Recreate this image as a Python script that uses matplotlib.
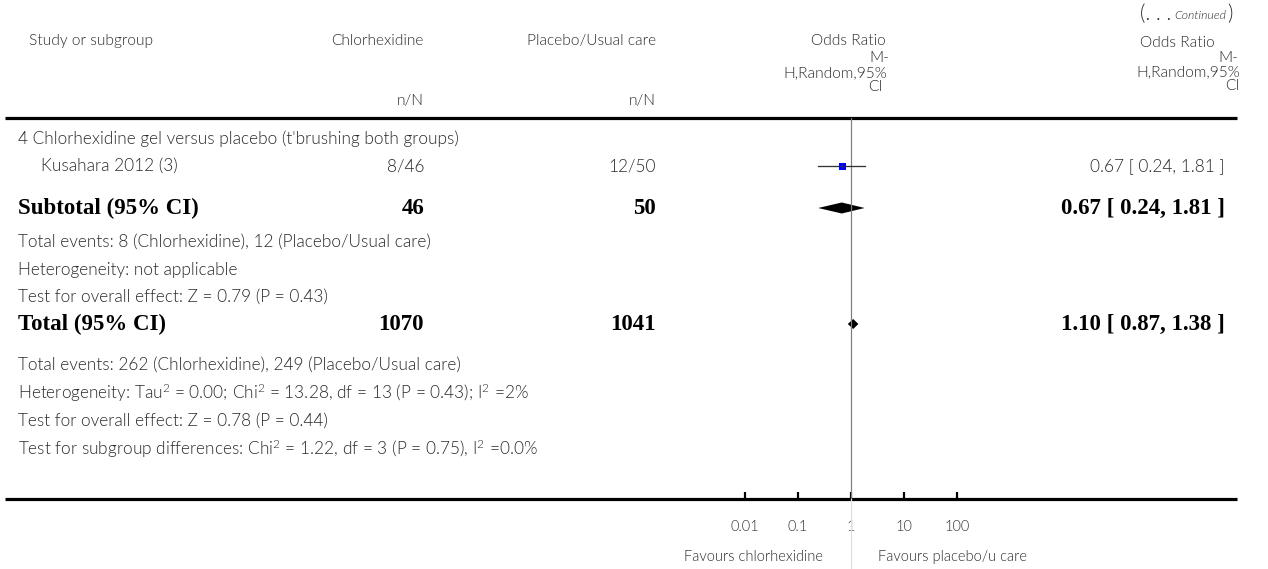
import matplotlib
matplotlib.use("Agg")
import matplotlib.pyplot as plt
import matplotlib.transforms as mtrans

# ---------------- data ----------------
subgroup_title = "4 Chlorhexidine gel versus placebo (t'brushing both groups)"
studies = ["Kusahara 2012 (3)"]
chx_events = [8]
chx_total = [46]
plc_events = [12]
plc_total = [50]
study_or = [0.67]
study_lo = [0.24]
study_hi = [1.81]

sub_or, sub_lo, sub_hi = 0.67, 0.24, 1.81
sub_chx_n, sub_plc_n = 46, 50
sub_notes = ["Total events: 8 (Chlorhexidine), 12 (Placebo/Usual care)",
             "Heterogeneity: not applicable",
             "Test for overall effect: Z = 0.79 (P = 0.43)"]

tot_or, tot_lo, tot_hi = 1.10, 0.87, 1.38
tot_chx_n, tot_plc_n = 1070, 1041
tot_notes = ["Total events: 262 (Chlorhexidine), 249 (Placebo/Usual care)",
             r"Heterogeneity: Tau$^2$ = 0.00; Chi$^2$ = 13.28, df = 13 (P = 0.43); I$^2$ =2%",
             "Test for overall effect: Z = 0.78 (P = 0.44)",
             r"Test for subgroup differences: Chi$^2$ = 1.22, df = 3 (P = 0.75), I$^2$ =0.0%"]

tick_values = [0.01, 0.1, 1, 10, 100]
tick_labels = ["0.01", "0.1", "1", "10", "100"]
favours_left = "Favours chlorhexidine"
favours_right = "Favours placebo/u care"

# ---------------- style ----------------
W, H = 1268, 569
LW = 300  # Lato Light
plt.rcParams['mathtext.fontset'] = 'custom'
plt.rcParams['mathtext.rm'] = 'Lato:weight=300'
plt.rcParams['mathtext.it'] = 'Lato:italic:weight=300'
TXT = '#2a2a2a'
REG = dict(family='Lato', weight=LW, color=TXT)
BOLD = dict(family='Liberation Serif', weight='bold', color='black')
HS = 11.2   # header font size
RS = 12.4   # body font size
BS = 16.5   # bold font size

fig = plt.figure(figsize=(W / 100, H / 100), dpi=100)
bg = fig.add_axes([0, 0, 1, 1])
bg.set_xlim(0, W)
bg.set_ylim(H, 0)
bg.axis('off')

PX = 72 / 100  # points per pixel

# column anchors (pixels)
X_LEFT = 18
X_INDENT = 41
X_CHX = 424
X_PLC = 656
X_RES = 1225

# row positions (pixels)
Y_HDR_LINE = 118
Y_AX_LINE = 499
y_title = 139
y_study = [166]
y_sub = 208
y_sub_notes = [242, 270, 297]
y_tot = 324
y_tot_notes = [365, 393, 421, 449]

# ---- header ----
bg.text(91, 41, "Study or subgroup", ha='center', va='center', fontsize=HS, **REG)
bg.text(X_CHX, 41, "Chlorhexidine", ha='right', va='center', fontsize=HS, **REG)
bg.text(X_PLC, 41, "Placebo/Usual care", ha='right', va='center', fontsize=HS, **REG)
bg.text(X_CHX, 101, "n/N", ha='right', va='center', fontsize=HS, **REG)
bg.text(X_PLC, 101, "n/N", ha='right', va='center', fontsize=HS, **REG)

# middle OR header
bg.text(848, 41, "Odds Ratio", ha='center', va='center', fontsize=HS, **REG)
bg.text(889, 58, "M-", ha='right', va='center', fontsize=HS, **REG)
bg.text(887, 73, "H,Random,95%", ha='right', va='center', fontsize=HS, **REG)
bg.text(875, 87, "CI", ha='center', va='center', fontsize=HS, **REG)
# right OR header
bg.text(1177, 43, "Odds Ratio", ha='center', va='center', fontsize=HS, **REG)
bg.text(1238, 58, "M-", ha='right', va='center', fontsize=HS, **REG)
bg.text(1240, 72, "H,Random,95%", ha='right', va='center', fontsize=HS, **REG)
bg.text(1239, 86, "CI", ha='right', va='center', fontsize=HS, **REG)

# (... Continued)
renderer = fig.canvas.get_renderer()
blend = mtrans.blended_transform_factory(mtrans.IdentityTransform(), bg.transData)
t1 = bg.text(1233, 14, ")", ha='right', va='center', fontsize=15, **REG)
bb = t1.get_window_extent(renderer)
t2 = bg.text(bb.x0 - 1, 15, "Continued", ha='right', va='center', fontsize=8.8,
             family='Lato', weight=LW, style='italic', color=TXT, transform=blend)
bb2 = t2.get_window_extent(renderer)
bg.text(bb2.x0 - 3, 14, "(. . .", ha='right', va='center', fontsize=15,
        transform=blend, **REG)

# horizontal rules
bg.plot([5, 1237], [Y_HDR_LINE, Y_HDR_LINE], color='black', lw=3.2 * PX,
        solid_capstyle='butt')
bg.plot([5, 1237], [Y_AX_LINE, Y_AX_LINE], color='black', lw=3.2 * PX,
        solid_capstyle='butt')

# ---- table text ----
bg.text(X_LEFT, y_title, subgroup_title, ha='left', va='center', fontsize=RS, **REG)
for i, name in enumerate(studies):
    y = y_study[i]
    bg.text(X_INDENT, y, name, ha='left', va='center', fontsize=RS, **REG)
    bg.text(X_CHX, y, f"{chx_events[i]}/{chx_total[i]}", ha='right', va='center',
            fontsize=RS, **REG)
    bg.text(X_PLC, y, f"{plc_events[i]}/{plc_total[i]}", ha='right', va='center',
            fontsize=RS, **REG)
    bg.text(X_RES, y, f"{study_or[i]:.2f} [ {study_lo[i]:.2f}, {study_hi[i]:.2f} ]",
            ha='right', va='center', fontsize=RS, **REG)

bg.text(X_LEFT, y_sub, "Subtotal (95% CI)", ha='left', va='center', fontsize=BS, **BOLD)
bg.text(X_CHX, y_sub, f"{sub_chx_n}", ha='right', va='center', fontsize=BS, **BOLD)
bg.text(X_PLC, y_sub, f"{sub_plc_n}", ha='right', va='center', fontsize=BS, **BOLD)
bg.text(X_RES, y_sub, f"{sub_or:.2f} [ {sub_lo:.2f}, {sub_hi:.2f} ]", ha='right',
        va='center', fontsize=BS, **BOLD)
for note, y in zip(sub_notes, y_sub_notes):
    bg.text(X_LEFT, y, note, ha='left', va='center', fontsize=RS, **REG)

bg.text(X_LEFT, y_tot, "Total (95% CI)", ha='left', va='center', fontsize=BS, **BOLD)
bg.text(X_CHX, y_tot, f"{tot_chx_n}", ha='right', va='center', fontsize=BS, **BOLD)
bg.text(X_PLC, y_tot, f"{tot_plc_n}", ha='right', va='center', fontsize=BS, **BOLD)
bg.text(X_RES, y_tot, f"{tot_or:.2f} [ {tot_lo:.2f}, {tot_hi:.2f} ]", ha='right',
        va='center', fontsize=BS, **BOLD)
for note, y in zip(tot_notes, y_tot_notes):
    bg.text(X_LEFT, y, note, ha='left', va='center', fontsize=RS, **REG)

# ---- forest plot axes (log scale, 1 decade = 53 px, OR=1 at x=851) ----
x_one, dec = 851, 53
x0, x1 = x_one - 3 * dec, x_one + 3 * dec
ax = fig.add_axes([x0 / W, (H - Y_AX_LINE) / H, (x1 - x0) / W,
                   (Y_AX_LINE - Y_HDR_LINE) / H])
ax.set_xscale('log')
ax.set_xlim(1e-3, 1e3)
ax.set_ylim(Y_AX_LINE, Y_HDR_LINE)
ax.patch.set_alpha(0)
for s in ax.spines.values():
    s.set_visible(False)
ax.set_yticks([])
ax.set_xticks(tick_values)
ax.set_xticklabels(tick_labels)
ax.minorticks_off()
ax.tick_params(axis='x', direction='in', length=7 * PX, width=2.2 * PX, color='black',
               pad=15, labelsize=10.5, labelcolor='#333333')
for lab in ax.get_xticklabels():
    lab.set_family('Lato')
    lab.set_weight(LW)

# line of no effect
ax.plot([1, 1], [Y_HDR_LINE, Y_AX_LINE], color='#7f7f7f', lw=1.2 * PX)
ax.plot([1, 1], [Y_AX_LINE, H], color='#e0e0e0', lw=1.2 * PX, clip_on=False)

# study estimates
for i in range(len(studies)):
    y = y_study[i]
    ax.plot([study_lo[i], study_hi[i]], [y, y], color='#333333', lw=1.3 * PX)
    ax.plot([study_or[i]], [y], marker='s', markersize=7 * PX, color='#0000ff',
            markeredgewidth=0)
    ax.plot([study_or[i]], [y], marker='+', markersize=4 * PX, color='#333333',
            markeredgewidth=0.6)

# diamonds
def diamond(est, lo, hi, y, h):
    ax.fill([lo, est, hi, est], [y, y - h, y, y + h], color='black', lw=0)

diamond(sub_or, sub_lo, sub_hi, y_sub, 5.5)
diamond(tot_or, tot_lo, tot_hi, y_tot, 5)

# favours labels
bg.text(823, 557, favours_left, ha='right', va='center', fontsize=10.5, **REG)
bg.text(878, 557, favours_right, ha='left', va='center', fontsize=10.5, **REG)

fig.savefig("out.png", dpi=100)
